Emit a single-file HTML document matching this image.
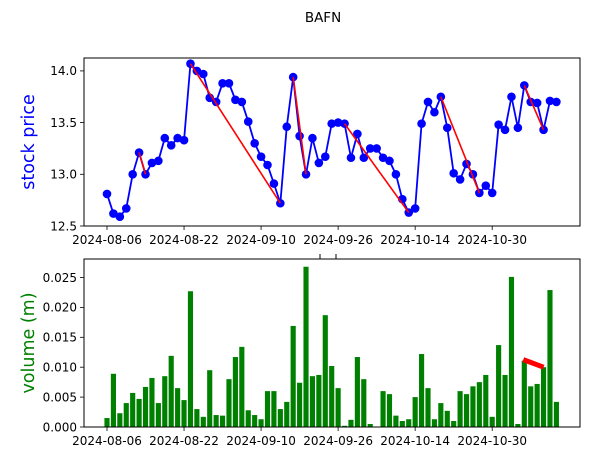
<!DOCTYPE html>
<html><head><meta charset="utf-8"><style>
html,body{margin:0;padding:0;background:#fff;}
svg{display:block;font-family:"DejaVu Sans","Liberation Sans",sans-serif;}
</style></head><body>
<svg id="chart" width="590" height="461" viewBox="0 0 590 461">
<text x="323" y="22" font-size="13.5" text-anchor="middle">BAFN</text>
<g id="topPanel"></g>
<g id="botPanel"></g>
<text transform="translate(34,142) rotate(-90)" font-size="17.5" fill="#0000ff" text-anchor="middle">stock price</text>
<text transform="translate(34,343) rotate(-90)" font-size="17.5" fill="#008000" text-anchor="middle">volume (m)</text>
<line x1="320" y1="254" x2="320" y2="259" stroke="#000"/>
<line x1="336" y1="254" x2="336" y2="259" stroke="#000"/>
</svg>
<script>
const price=[12.81,12.62,12.59,12.67,13.00,13.21,13.00,13.11,13.13,13.35,13.28,13.35,13.33,14.07,14.00,13.97,13.74,13.70,13.88,13.88,13.72,13.70,13.51,13.30,13.17,13.09,12.91,12.72,13.46,13.94,13.37,13.00,13.35,13.11,13.17,13.49,13.50,13.49,13.16,13.39,13.16,13.25,13.25,13.16,13.13,13.00,12.76,12.63,12.67,13.49,13.70,13.60,13.75,13.45,13.01,12.95,13.10,13.00,12.82,12.89,12.82,13.48,13.43,13.75,13.45,13.86,13.70,13.69,13.43,13.71,13.70];
const volume=[0.0015,0.0089,0.0023,0.0040,0.0057,0.0047,0.0067,0.0082,0.0040,0.0085,0.0119,0.0065,0.0045,0.0227,0.0030,0.0017,0.0095,0.0020,0.0019,0.0080,0.0117,0.0134,0.0028,0.0020,0.0013,0.0060,0.0060,0.0030,0.0042,0.0169,0.0074,0.0268,0.0085,0.0087,0.0187,0.0102,0.0065,0.0002,0.0012,0.0117,0.0080,0.0005,0.0,0.0060,0.0055,0.0019,0.0010,0.0013,0.0050,0.0122,0.0065,0.0013,0.0040,0.0027,0.0010,0.0060,0.0055,0.0068,0.0075,0.0087,0.0017,0.0137,0.0087,0.0251,0.0005,0.0111,0.0068,0.0072,0.0100,0.0229,0.0042];
const trendSegments=[[5,6],[13,27],[29,31],[37,47],[52,58],[65,68]];
const volumeTrend=[65,68];
const xTickIdx=[0,12,24,36,48,60];
const xTickLabels=["2024-08-06","2024-08-22","2024-09-10","2024-09-26","2024-10-14","2024-10-30"];
const priceTicks=[12.5,13.0,13.5,14.0];
const volTicks=[0,0.005,0.010,0.015,0.020,0.025];

const NS="http://www.w3.org/2000/svg";
const L=84,R=580;
const X=i=>107+i*6.42;
const yP=v=>226-(v-12.5)*103.4;
const yV=v=>427-v*5980;
function mk(tag,attrs,parent){const e=document.createElementNS(NS,tag);for(const k in attrs)e.setAttribute(k,attrs[k]);parent.appendChild(e);return e;}
const gTop=document.getElementById('topPanel'),gBot=document.getElementById('botPanel');

function axes(g,t,b,ticks,yf,fmt,nm){
  ticks.forEach(v=>{
    const y=yf(v);
    const tl=mk('line',{x1:L-4,x2:L,y1:y,y2:y,stroke:'#000','stroke-width':0.8},g);
    
    
    const tx=mk('text',{x:L-7,y:y+4.3,'font-size':12,'text-anchor':'end'},g);
    tx.textContent=fmt(v);
    
    
  });
  xTickIdx.forEach((i,k)=>{
    const x=X(i);
    const tl=mk('line',{x1:x,x2:x,y1:b,y2:b+4,stroke:'#000','stroke-width':0.8},g);
    
    
    const tx=mk('text',{x:x,y:b+18,'font-size':12,'text-anchor':'middle'},g);
    tx.textContent=xTickLabels[k];
    
    
  });
  const fr=mk('rect',{x:L,y:t,width:R-L,height:b-t,fill:'none',stroke:'#000','stroke-width':1},g);
  
  
}

const pl=mk('polyline',{points:price.map((v,i)=>X(i)+','+yP(v)).join(' '),fill:'none',stroke:'#0000ff','stroke-width':1.8},gTop);


price.forEach((v,i)=>{
  const c=mk('circle',{cx:X(i),cy:yP(v),r:4.3,fill:'#0000ff'},gTop);
  
  
});
trendSegments.forEach(([a,b])=>{
  const l=mk('line',{x1:X(a),y1:yP(price[a]),x2:X(b),y2:yP(price[b]),stroke:'#ff0000','stroke-width':1.6},gTop);
  
  
});
axes(gTop,58,226,priceTicks,yP,v=>v.toFixed(1),'price');

volume.forEach((v,i)=>{
  const r=mk('rect',{x:X(i)-2.57,y:yV(v),width:5.14,height:427-yV(v),fill:'#008000'},gBot);
  
  
});
{
  const [a,b]=volumeTrend;
  const l=mk('line',{x1:X(a)-1,y1:yV(volume[a])-1,x2:X(b),y2:yV(volume[b]),stroke:'#ff0000','stroke-width':5},gBot);
  
  
}
axes(gBot,259,427,volTicks,yV,v=>v.toFixed(3),'volume');
</script>
</body></html>
